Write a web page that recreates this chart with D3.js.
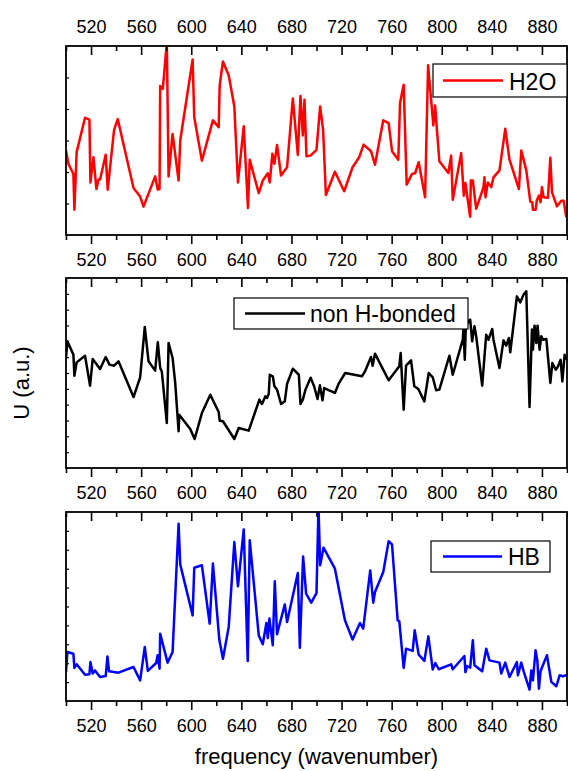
<!DOCTYPE html>
<html>
<head>
<meta charset="utf-8">
<script src="https://cdn.jsdelivr.net/npm/d3@7"></script>
<style>
  html, body { margin: 0; padding: 0; background: #fff; }
  svg { display: block; font-family: "Liberation Sans", Arial, sans-serif; }
</style>
</head>
<body>
<svg id="chart" width="568" height="771"></svg>
<script>
// Frequency axis ticks
const majorTicks = [520, 560, 600, 640, 680, 720, 760, 800, 840, 880];
const minorTicks = [500, 540, 580, 620, 660, 700, 740, 780, 820, 860, 900];

// H2O series
const h2oFreq = [500, 501.9, 505.9, 506.7, 508.5, 515.2, 518.7, 519.5, 521.9, 524.3, 525.9, 527.2, 531.7, 533.3, 538.4, 541.3, 553.9, 559.2, 561.9, 571.2, 573.3, 574.7, 575.2, 577.3, 580.5, 581.9, 585.1, 589.9, 591.2, 601.1, 602.4, 608.5, 617.3, 621.9, 622.7, 625.3, 629.9, 634.4, 637.3, 641.9, 645.3, 646.7, 653.9, 657.1, 661.1, 662.7, 664.8, 666.4, 668.5, 671.7, 676.5, 681.1, 685.1, 687.2, 689.1, 690.4, 692.0, 695.2, 700.0, 702.9, 705.3, 707.5, 714.7, 722.1, 728.8, 734.1, 737.6, 743.5, 746.7, 753.3, 757.6, 760.3, 765.3, 766.7, 769.6, 772.0, 776.3, 778.7, 781.6, 786.7, 789.1, 793.3, 794.7, 798.1, 805.3, 807.5, 808.8, 815.5, 817.6, 818.9, 820.3, 822.7, 823.2, 824.8, 827.5, 831.5, 833.3, 834.1, 834.9, 836.8, 839.5, 841.3, 846.1, 850.7, 854.1, 861.6, 863.5, 867.5, 870.7, 872.3, 872.8, 874.9, 876.0, 877.6, 878.9, 880.0, 881.3, 884.8, 886.7, 888.0, 892.0, 895.5, 897.3, 899.5];
const h2oU = [2.68, 2.26, 1.94, 0.80, 2.63, 3.72, 3.66, 1.67, 2.47, 1.46, 1.76, 1.76, 2.55, 1.44, 3.34, 3.68, 1.49, 1.22, 0.90, 1.86, 1.44, 1.46, 4.73, 4.64, 6.10, 1.86, 3.21, 1.73, 3.00, 5.57, 3.74, 2.36, 3.64, 3.42, 4.75, 5.51, 5.07, 4.08, 1.67, 3.45, 0.86, 2.39, 1.33, 1.73, 1.96, 1.67, 2.58, 2.26, 2.86, 1.89, 2.15, 4.33, 2.54, 4.41, 3.16, 4.29, 2.50, 2.52, 2.70, 4.08, 3.32, 1.27, 2.01, 1.39, 2.15, 2.47, 2.87, 2.66, 2.23, 3.64, 3.55, 2.66, 2.39, 4.19, 4.77, 1.60, 1.94, 1.96, 2.31, 1.20, 5.39, 3.48, 4.11, 2.34, 1.97, 2.52, 1.12, 2.60, 1.25, 1.65, 1.25, 0.58, 1.73, 1.73, 0.83, 1.30, 1.52, 1.83, 1.20, 1.67, 1.52, 1.83, 2.05, 3.37, 2.39, 1.46, 2.68, 2.05, 1.06, 1.04, 0.80, 0.80, 1.11, 1.25, 1.04, 1.52, 1.20, 1.18, 2.45, 1.36, 0.91, 1.09, 1.09, 0.56];

// non H-bonded series
const nonHbFreq = [500, 501.1, 505.9, 506.7, 508.5, 515.2, 519.2, 521.3, 527.2, 531.7, 534.7, 538.4, 541.9, 553.9, 559.2, 562.9, 565.9, 571.2, 573.3, 575.2, 576.5, 580.5, 581.9, 585.1, 587.2, 589.9, 590.4, 599.2, 602.7, 608.5, 615.2, 621.9, 622.7, 625.3, 634.4, 637.9, 645.9, 654.4, 656.5, 659.2, 660.5, 661.9, 662.7, 665.1, 666.4, 668.5, 671.7, 674.7, 676.5, 681.1, 685.9, 687.2, 689.1, 691.2, 695.3, 698.1, 700.8, 702.7, 704.8, 706.1, 714.7, 717.6, 722.9, 736.3, 738.7, 743.5, 744.8, 746.7, 757.6, 766.1, 767.2, 769.6, 771.5, 775.5, 778.1, 781.3, 786.1, 789.6, 792.8, 795.5, 798.1, 806.1, 808.8, 816.8, 817.3, 818.4, 819.5, 820.8, 822.7, 824.3, 826.1, 827.5, 832.3, 835.5, 837.3, 840.3, 841.3, 846.1, 849.3, 851.5, 853.6, 854.7, 860.0, 862.7, 865.3, 867.5, 870.1, 872.0, 872.8, 874.1, 875.5, 876.5, 878.1, 879.5, 880.8, 883.5, 886.7, 888.3, 891.0, 892.8, 894.9, 896.3, 898.1, 899.5];
const nonHbU = [6.95, 8.0, 7.16, 5.83, 6.67, 7.09, 5.2, 6.88, 6.25, 7.01, 6.53, 6.46, 6.74, 4.48, 5.73, 8.91, 6.74, 6.15, 7.94, 6.32, 6.1, 2.84, 7.89, 6.95, 5.37, 2.32, 3.37, 2.46, 1.83, 3.47, 4.63, 3.54, 2.99, 2.95, 1.83, 2.53, 2.36, 4.32, 4.04, 4.53, 4.42, 4.69, 5.89, 5.79, 5.16, 4.95, 4.04, 4.21, 5.31, 6.27, 5.89, 4.04, 4.32, 4.95, 5.7, 5.16, 4.36, 5.22, 4.27, 5.05, 4.74, 5.31, 6.0, 5.79, 6.1, 7.01, 6.46, 7.22, 5.54, 6.42, 7.26, 3.68, 6.46, 6.8, 5.16, 4.99, 4.21, 6.0, 5.73, 4.91, 4.95, 7.09, 5.89, 8.11, 8.78, 6.84, 9.62, 9.16, 9.37, 8.0, 8.95, 8.32, 5.2, 8.42, 8.1, 8.78, 8.1, 6.32, 8.06, 7.73, 8.21, 7.31, 10.84, 10.46, 10.95, 11.16, 3.85, 8.74, 7.47, 8.99, 7.89, 8.99, 7.47, 8.32, 8.1, 8.15, 5.37, 6.63, 6.21, 6.42, 6.84, 5.47, 7.16, 6.84];

// HB series
const hbFreq = [500, 501.1, 505.9, 506.7, 508.5, 515.2, 518.7, 519.5, 521.3, 523.2, 524.5, 527.2, 531.7, 533.1, 534.4, 541.9, 553.9, 559.2, 562.9, 565.3, 572.0, 573.1, 574.7, 575.2, 581.1, 585.1, 589.9, 591.2, 601.1, 602.4, 608.5, 614.7, 617.3, 622.4, 625.3, 629.9, 634.4, 637.3, 641.9, 645.1, 646.7, 653.9, 657.1, 660.0, 661.1, 662.4, 665.1, 666.7, 668.5, 674.7, 676.5, 685.1, 686.7, 689.3, 691.7, 695.8, 700.0, 701.6, 702.9, 705.6, 714.7, 722.7, 728.8, 734.7, 737.3, 742.9, 745.3, 746.7, 753.3, 757.6, 760.3, 764.8, 766.1, 769.6, 771.5, 776.8, 778.4, 781.6, 786.1, 789.3, 792.8, 794.9, 797.6, 807.5, 808.8, 818.1, 818.9, 820.3, 822.7, 824.8, 826.1, 832.3, 835.5, 838.1, 846.1, 847.5, 850.7, 854.1, 860.0, 860.8, 863.5, 865.6, 870.1, 871.5, 872.8, 874.9, 876.3, 877.6, 878.9, 884.0, 887.5, 891.5, 894.1, 896.8, 899.5];
const hbU = [1.53, 2.59, 2.5, 1.75, 1.94, 1.39, 1.41, 2.06, 1.45, 1.62, 1.5, 1.27, 1.32, 2.36, 1.57, 1.5, 1.8, 1.09, 2.86, 1.59, 2.01, 2.42, 1.71, 3.56, 2.03, 2.59, 9.38, 7.23, 4.53, 7.05, 7.18, 4.09, 7.27, 3.25, 2.24, 3.92, 8.41, 6.07, 9.08, 2.12, 8.5, 3.47, 3.0, 4.13, 3.33, 4.36, 2.95, 6.33, 3.53, 5.11, 4.18, 6.77, 2.82, 7.65, 5.68, 5.2, 5.71, 10.3, 7.18, 8.11, 7.0, 4.27, 3.25, 4.13, 3.83, 6.91, 5.2, 5.77, 6.83, 8.45, 8.29, 4.27, 4.23, 1.75, 2.77, 2.65, 3.74, 2.45, 2.12, 3.42, 1.66, 2.01, 1.68, 1.94, 1.68, 2.38, 1.53, 1.85, 1.76, 3.21, 1.89, 1.57, 2.77, 2.15, 2.03, 1.45, 2.03, 1.27, 2.06, 1.36, 2.03, 1.53, 0.6, 1.62, 1.09, 2.68, 2.15, 0.65, 1.59, 2.42, 1.01, 0.78, 1.36, 1.31, 1.36];

const xDomain = [500, 900];

const svg = d3.select("#chart");
const left = 66, right = 567;
const x = d3.scaleLinear().domain(xDomain).range([left, right]);

const panels = [
  { name: "H2O", freq: h2oFreq, u: h2oU, color: "#ff0000", yMax: 6, top: 46, bottom: 235, topLabels: true,
    legend: { x0: 433, x1: 567, y0: 64, y1: 97, line0: 443, line1: 503, tx: 509, ty: 89.5 } },
  { name: "non H-bonded", freq: nonHbFreq, u: nonHbU, color: "#000000", yMax: 12, top: 278, bottom: 468, topLabels: false,
    legend: { x0: 234, x1: 468, y0: 298, y1: 329, line0: 245, line1: 305, tx: 310, ty: 322 } },
  { name: "HB", freq: hbFreq, u: hbU, color: "#0000ff", yMax: 10, top: 512, bottom: 701, topLabels: false,
    legend: { x0: 431, x1: 550, y0: 541, y1: 572, line0: 443, line1: 502, tx: 508, ty: 565 } }
];

const tickFont = 18;

panels.forEach((p, i) => {
  const y = d3.scaleLinear().domain([0, p.yMax]).range([p.bottom, p.top]);
  const g = svg.append("g");

  const clipId = "clip" + i;
  svg.append("defs").append("clipPath").attr("id", clipId)
    .append("rect").attr("x", left).attr("y", p.top)
    .attr("width", right - left).attr("height", p.bottom - p.top);

  // data line
  const pts = p.freq.map((f, k) => [f, p.u[k]]);
  g.append("path")
    .datum(pts)
    .attr("clip-path", `url(#${clipId})`)
    .attr("fill", "none")
    .attr("stroke", p.color)
    .attr("stroke-width", 2.5)
    .attr("stroke-linejoin", "round")
    .attr("d", d3.line().x(d => x(d[0])).y(d => y(d[1])));

  // bottom axis: outward ticks with labels
  const bottomMajor = d3.axisBottom(x).tickValues(majorTicks).tickSize(9).tickPadding(9.5).tickFormat(d3.format("d"));
  const bottomMinor = d3.axisBottom(x).tickValues(minorTicks).tickSize(5).tickFormat("");
  [bottomMajor, bottomMinor].forEach(ax => {
    const a = g.append("g").attr("transform", `translate(0,${p.bottom})`).call(ax);
    a.select(".domain").remove();
    a.selectAll("line").attr("stroke", "#000").attr("stroke-width", 1.6);
    a.selectAll("text").attr("font-size", tickFont).attr("fill", "#000")
      .attr("font-family", "Liberation Sans, Arial, sans-serif");
  });

  // top axis: inward ticks
  const topMajor = d3.axisTop(x).tickValues(majorTicks).tickSize(-9).tickPadding(p.topLabels ? 13 : 0)
    .tickFormat(p.topLabels ? d3.format("d") : "");
  const topMinor = d3.axisTop(x).tickValues(minorTicks).tickSize(-5).tickFormat("");
  [topMajor, topMinor].forEach(ax => {
    const a = g.append("g").attr("transform", `translate(0,${p.top})`).call(ax);
    a.select(".domain").remove();
    a.selectAll("line").attr("stroke", "#000").attr("stroke-width", 1.6);
    a.selectAll("text").attr("font-size", tickFont).attr("fill", "#000")
      .attr("font-family", "Liberation Sans, Arial, sans-serif");
  });

  // left axis: short inward ticks, no labels
  const yTicks = d3.range(1, p.yMax);
  const la = g.append("g").attr("transform", `translate(${left},0)`)
    .call(d3.axisLeft(y).tickValues(yTicks).tickSize(-3).tickFormat(""));
  la.select(".domain").remove();
  la.selectAll("line").attr("stroke", "#000").attr("stroke-width", 1.2);

  // frame
  g.append("rect")
    .attr("x", left).attr("y", p.top)
    .attr("width", right - left).attr("height", p.bottom - p.top)
    .attr("fill", "none").attr("stroke", "#000").attr("stroke-width", 1.8);

  // legend
  const L = p.legend;
  const lg = g.append("g");
  lg.append("rect")
    .attr("x", L.x0).attr("y", L.y0)
    .attr("width", L.x1 - L.x0).attr("height", L.y1 - L.y0)
    .attr("fill", "#fff").attr("stroke", "#000").attr("stroke-width", 1.2);
  lg.append("line")
    .attr("x1", L.line0).attr("x2", L.line1)
    .attr("y1", (L.y0 + L.y1) / 2).attr("y2", (L.y0 + L.y1) / 2)
    .attr("stroke", p.color).attr("stroke-width", 2.5);
  lg.append("text")
    .attr("x", L.tx).attr("y", L.ty)
    .attr("font-size", 23).attr("fill", "#000")
    .text(p.name);
});

// axis titles
svg.append("text")
  .attr("transform", "translate(29,383) rotate(-90)")
  .attr("text-anchor", "middle")
  .attr("font-size", 22)
  .text("U (a.u.)");

svg.append("text")
  .attr("x", (left + right) / 2)
  .attr("y", 764)
  .attr("text-anchor", "middle")
  .attr("font-size", 22)
  .text("frequency (wavenumber)");
</script>
</body>
</html>
